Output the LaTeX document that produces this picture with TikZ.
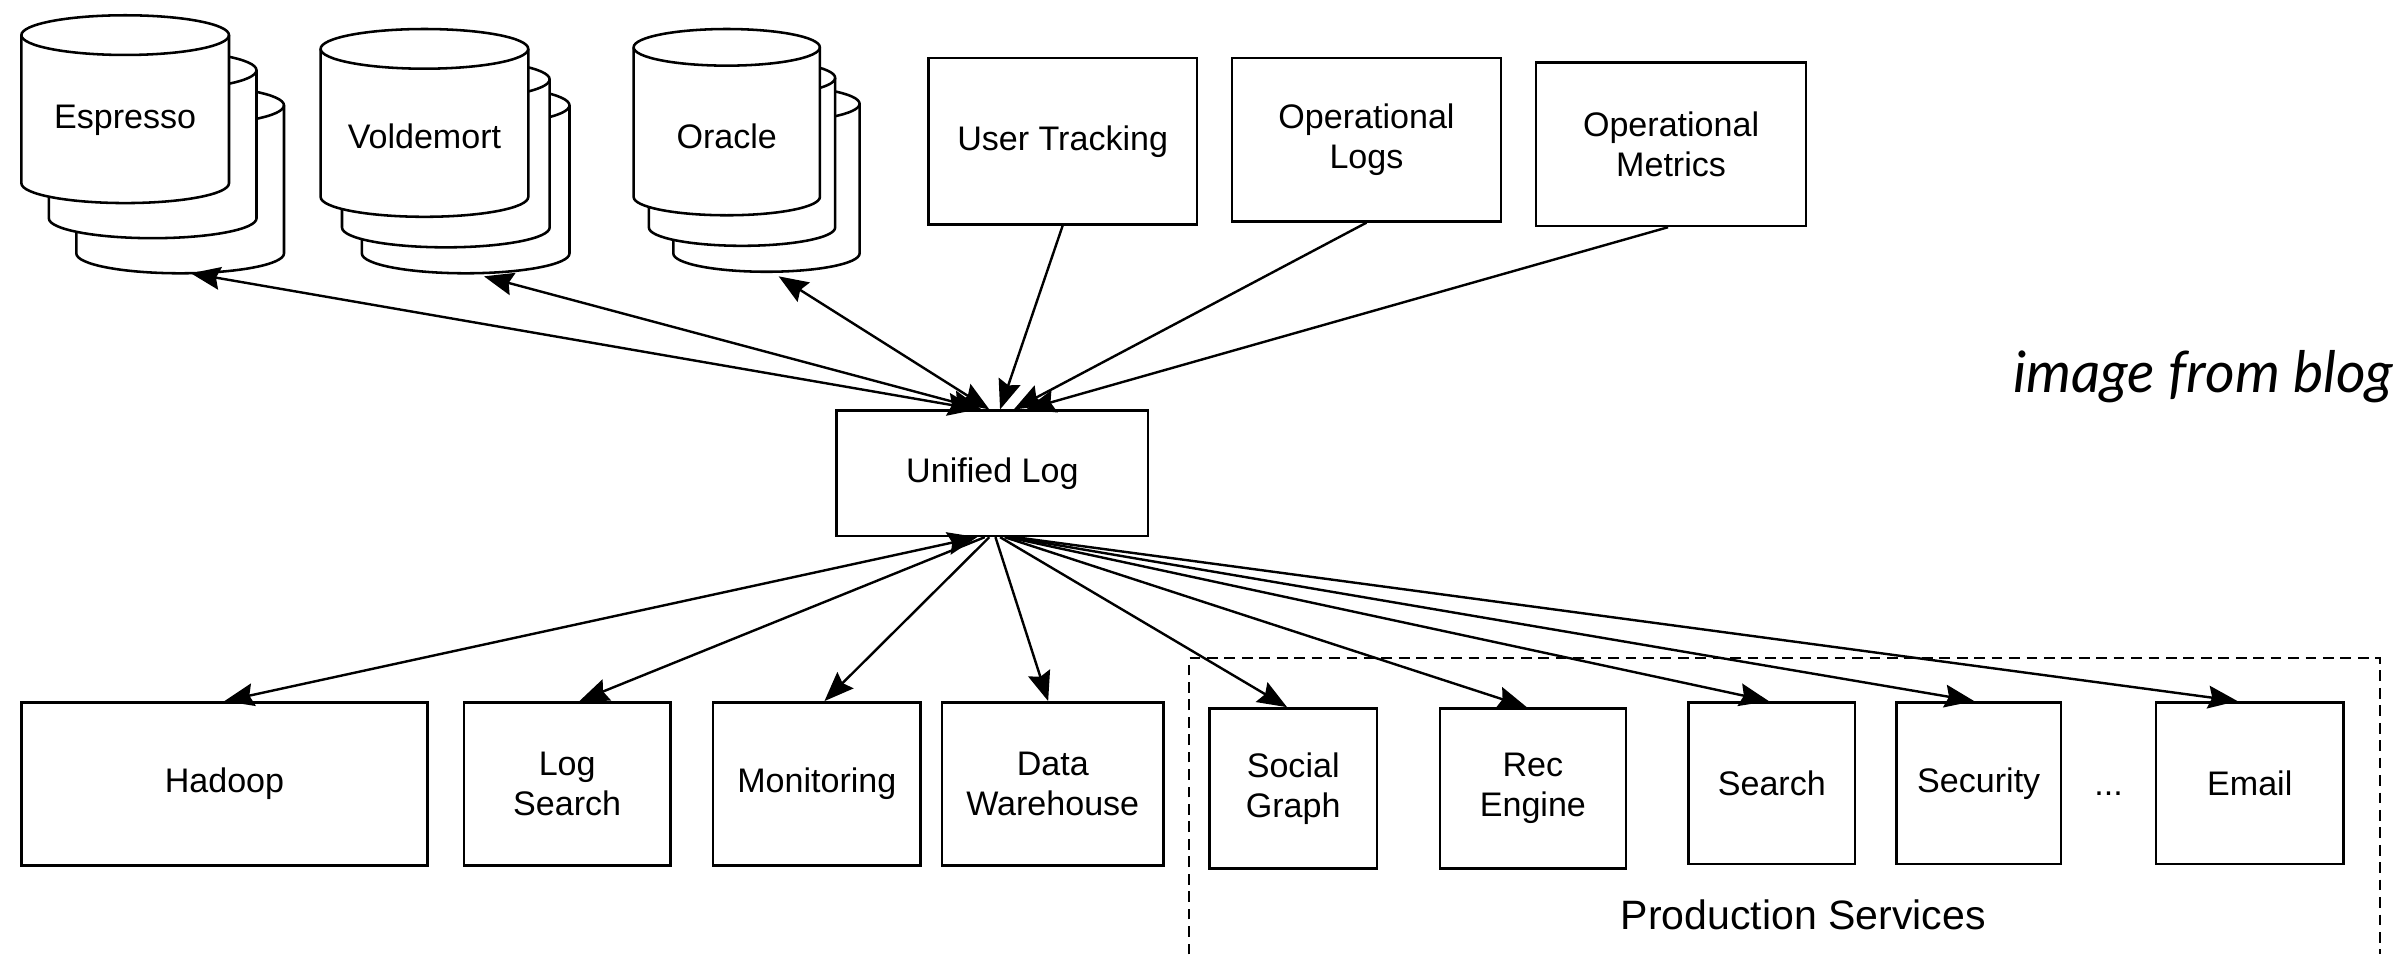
\documentclass[tikz,border=0pt]{standalone}
\usepackage{fontspec}
\setmainfont{Liberation Sans}
\newfontfamily\blogfont{Lato}
\usetikzlibrary{arrows.meta,calc}

% one disk of a database stack: left, top, right, bottom, ellipse half height
\newcommand{\drum}[5]{%
  \filldraw[fill=white, line width=0.95pt] (#1,#2+#5) -- (#1,#4-#5)
    arc[start angle=180, end angle=0, x radius={(#3-#1)/2}, y radius=#5]
    -- (#3,#2+#5)
    arc[start angle=0, end angle=-180, x radius={(#3-#1)/2}, y radius=#5] -- cycle;
  \draw[line width=0.95pt] (#1,#2+#5)
    arc[start angle=180, end angle=0, x radius={(#3-#1)/2}, y radius=#5];}

\tikzset{
  box/.style={draw, line width=0.95pt, align=center, inner sep=0pt,
    font=\fontsize{12.7}{14.8}\selectfont},
  dbtext/.style={align=center, inner sep=0pt, font=\fontsize{12.7}{14.8}\selectfont},
  link/.style={line width=0.9pt, >={Stealth[length=11pt,width=8.5pt,inset=1.5pt]}},
}

\begin{document}
\begin{tikzpicture}[x=0.02cm, y=-0.02cm]
  \useasboundingbox (0,0) rectangle (1568,625);

  % database stacks
  \drum{50}{56}{186}{179}{13}
  \drum{32}{33}{168}{156}{13}
  \drum{14}{10}{150}{133}{13}
  \drum{237}{56}{373}{179}{13}
  \drum{224}{39}{360}{162}{13}
  \drum{210}{19}{346}{142}{13}
  \drum{441}{56}{563}{178}{12}
  \drum{425}{39}{547}{161}{12}
  \drum{415}{19}{537}{141}{12}
  \node[dbtext] (espresso) at (82,79) {Espresso};
  \node[dbtext] (voldemort) at (278,89) {Voldemort};
  \node[dbtext] (oracle) at (476,89) {Oracle};
  \coordinate (espdb) at (125,179);
  \coordinate (voldb) at (317,181);
  \coordinate (oradb) at (510,181);

  % sources
  \node[box, minimum width=3.52cm, minimum height=2.18cm] (usertrack) at (696,92.5) {User Tracking};
  \node[box, minimum width=3.52cm, minimum height=2.14cm] (oplogs) at (895,91.5) {Operational\\Logs};
  \node[box, minimum width=3.54cm, minimum height=2.14cm] (opmetrics) at (1094.5,94.5) {Operational\\Metrics};

  \node[box, minimum width=4.08cm, minimum height=1.64cm] (ulog) at (650,310) {Unified Log};

  % consumers
  \node[box, minimum width=5.32cm, minimum height=2.14cm] (hadoop) at (147,513.5) {Hadoop};
  \node[box, minimum width=2.70cm, minimum height=2.14cm] (logsearch) at (371.5,513.5) {Log\\Search};
  \node[box, minimum width=2.72cm, minimum height=2.14cm] (monitoring) at (535,513.5) {Monitoring};
  \node[box, minimum width=2.90cm, minimum height=2.14cm] (dwh) at (689.5,513.5) {Data\\Warehouse};
  \node[box, minimum width=2.20cm, minimum height=2.10cm] (socgraph) at (847,516.5) {Social\\Graph};
  \node[box, minimum width=2.44cm, minimum height=2.10cm] (recengine) at (1004,516.5) {Rec\\Engine};
  \node[box, minimum width=2.18cm, minimum height=2.12cm] (search) at (1160.5,513) {Search};
  \node[box, minimum width=2.16cm, minimum height=2.12cm] (security) at (1296,513) {Security};
  \node[dbtext, anchor=base] (dots) at (1381,521) {...};
  \node[box, minimum width=2.46cm, minimum height=2.12cm] (email) at (1473.5,513) {Email};

  \draw[line width=0.8pt, dash pattern=on 4pt off 2.5pt] (779,625) -- (779,431) -- (1559,431) -- (1559,625);
  \node[inner sep=0pt, font=\fontsize{15.3}{18}\selectfont] (prodserv) at (1181,599) {Production Services};
  \node[anchor=base east, inner sep=0pt, font=\blogfont\itshape\fontsize{21.3}{24}\selectfont] (blog) at (1568,257) {image from blog};

  \begin{scope}[link, ->]
    \draw[<->] (espdb) to ($(ulog.north)+(-10,0)$);
    \draw[<->] (voldb) to ($(ulog.north)+(-7,0)$);
    \draw[<->] (oradb) to ($(ulog.north)+(-2,0)$);
    \draw (usertrack.south) to ($(ulog.north)+(5,0)$);
    \draw (oplogs.south) to ($(ulog.north)+(14,0)$);
    \draw ($(opmetrics.south)+(-2,0)$) to ($(ulog.north)+(22,0)$);
    \draw[<->] ($(ulog.south)+(-10,0)$) to (hadoop.north);
    \draw ($(ulog.south)+(-5,0)$) to ($(logsearch.north)+(8,0)$);
    \draw ($(ulog.south)+(-2,0)$) to ($(monitoring.north)+(5,0)$);
    \draw ($(ulog.south)+(2,0)$) to ($(dwh.north)+(-3,0)$);
    \draw ($(ulog.south)+(5,0)$) to ($(socgraph.north)+(-4,0)$);
    \draw ($(ulog.south)+(8,0)$) to ($(recengine.north)+(-4,0)$);
    \draw ($(ulog.south)+(10,0)$) to ($(search.north)+(-2,0)$);
    \draw ($(ulog.south)+(12,0)$) to ($(security.north)+(-3,0)$);
    \draw ($(ulog.south)+(15,0)$) to ($(email.north)+(-8,0)$);
  \end{scope}
\end{tikzpicture}
\end{document}
